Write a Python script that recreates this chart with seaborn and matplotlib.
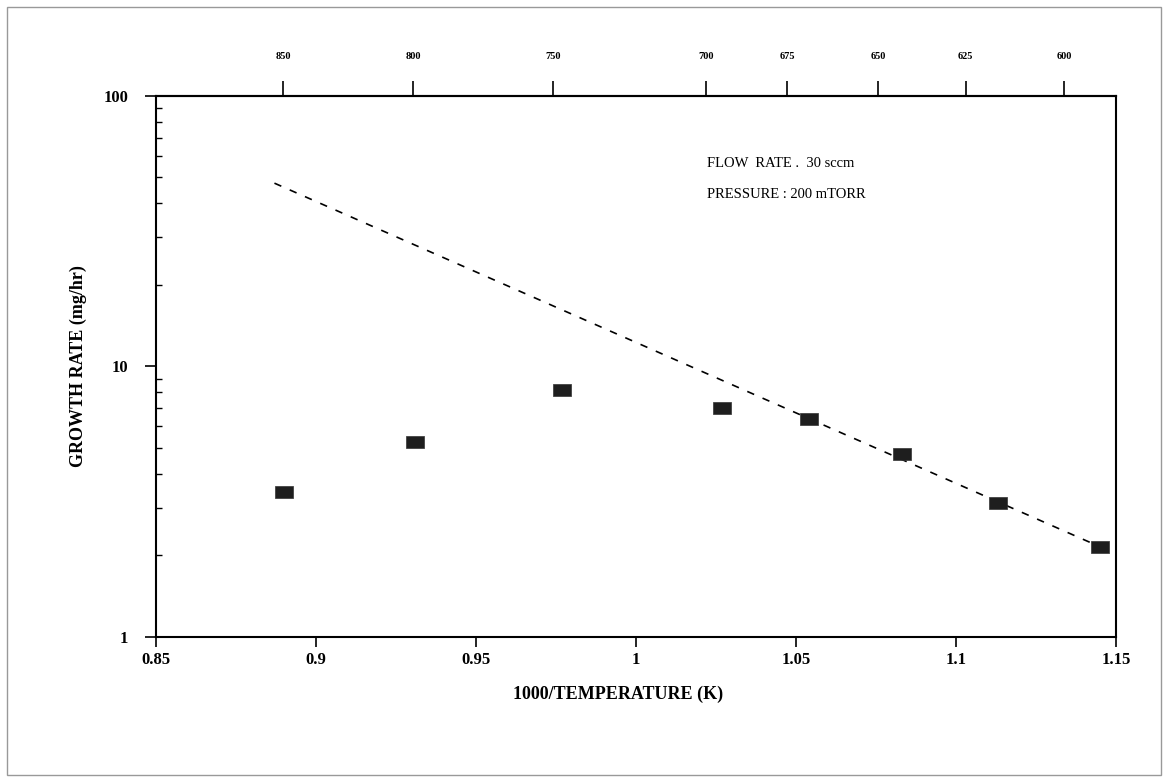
import numpy as np
import pandas as pd
import matplotlib
matplotlib.use("Agg")
import matplotlib.pyplot as plt
import seaborn as sns
from matplotlib.path import Path
from matplotlib.patches import Rectangle
from matplotlib.ticker import LogLocator, NullFormatter, FixedLocator

# ---- data ----
inv_temp = [0.890, 0.931, 0.977, 1.027, 1.054, 1.083, 1.113, 1.145]
growth_rate = [3.44, 5.26, 8.17, 6.99, 6.38, 4.72, 3.11, 2.15]
fit_x = [0.887, 1.145]
fit_y = [47.5, 2.15]
top_tick_pos = [0.8898, 0.9304, 0.9740, 1.0218, 1.0472, 1.0756, 1.1030, 1.1337]
top_tick_labels = ["850", "800", "750", "700", "675", "650", "625", "600"]
x_ticks = [0.85, 0.9, 0.95, 1.0, 1.05, 1.1, 1.15]
x_tick_labels = ["0.85", "0.9", "0.95", "1", "1.05", "1.1", "1.15"]
y_ticks = [1, 10, 100]
y_tick_labels = ["1", "10", "100"]
notes = ["FLOW  RATE .  30 sccm", "PRESSURE : 200 mTORR"]

sns.set_theme(style="ticks")
plt.rcParams["font.family"] = ["Liberation Serif", "DejaVu Serif"]
for k in ["text.color", "axes.labelcolor", "xtick.color", "ytick.color", "axes.edgecolor"]:
    plt.rcParams[k] = "black"

fig = plt.figure(figsize=(11.68, 7.82), dpi=100)
ax = fig.add_axes([0.1336, 0.1858, 0.8219, 0.6918])

pts = pd.DataFrame({"x": inv_temp, "y": growth_rate})
fit = pd.DataFrame({"x": fit_x, "y": fit_y})

rect = Path([(-1, -0.6), (1, -0.6), (1, 0.6), (-1, 0.6), (-1, -0.6)],
            [Path.MOVETO, Path.LINETO, Path.LINETO, Path.LINETO, Path.CLOSEPOLY])

sns.lineplot(data=fit, x="x", y="y", ax=ax, color="black", linewidth=1.2,
             linestyle=(0, (4.5, 5.5)))
sns.scatterplot(data=pts, x="x", y="y", ax=ax, marker=rect, s=180,
                color="#1e1e1e", edgecolor="#333333", linewidth=0.5, zorder=3)

ax.set_yscale("log")
ax.set_xlim(0.85, 1.15)
ax.set_ylim(1, 100)

ax.set_xticks(x_ticks)
ax.set_xticklabels(x_tick_labels, fontsize=12, fontweight="bold")
ax.set_yticks(y_ticks)
ax.set_yticklabels(y_tick_labels, fontsize=12, fontweight="bold")
ax.yaxis.set_minor_locator(LogLocator(base=10, subs=np.arange(2, 10)))
ax.yaxis.set_minor_formatter(NullFormatter())
ax.xaxis.set_minor_locator(FixedLocator([]))

ax.tick_params(axis="x", which="major", direction="out", length=7, width=1.2, pad=4)
ax.tick_params(axis="y", which="major", direction="out", length=8, width=1.2, pad=12)
ax.tick_params(axis="y", which="minor", direction="in", length=4, width=1.0)

for sp in ax.spines.values():
    sp.set_linewidth(1.5)
    sp.set_color("black")

ax.set_xlabel("1000/TEMPERATURE (K)", fontsize=13, fontweight="bold", labelpad=2)
ax.xaxis.set_label_coords(0.481, -0.09)
ax.set_ylabel("GROWTH RATE (mg/hr)", fontsize=13, fontweight="bold", labelpad=12)

sec = ax.secondary_xaxis("top")
sec.set_xticks(top_tick_pos)
sec.set_xticklabels(top_tick_labels, fontsize=7.5, fontweight="bold")
sec.tick_params(direction="out", length=11, width=1.2, pad=14, colors="black")
sec.xaxis.set_minor_locator(FixedLocator([]))
sec.spines["top"].set_linewidth(1.5)

ax.text(1.0222, 56, notes[0], fontsize=10.5, va="center", ha="left")
ax.text(1.0222, 43, notes[1], fontsize=10.5, va="center", ha="left")

fig.patches.append(Rectangle((0.006, 0.009), 0.988, 0.982, transform=fig.transFigure,
                             fill=False, edgecolor="#999999", linewidth=1.0))

fig.savefig("out.png", dpi=100)
